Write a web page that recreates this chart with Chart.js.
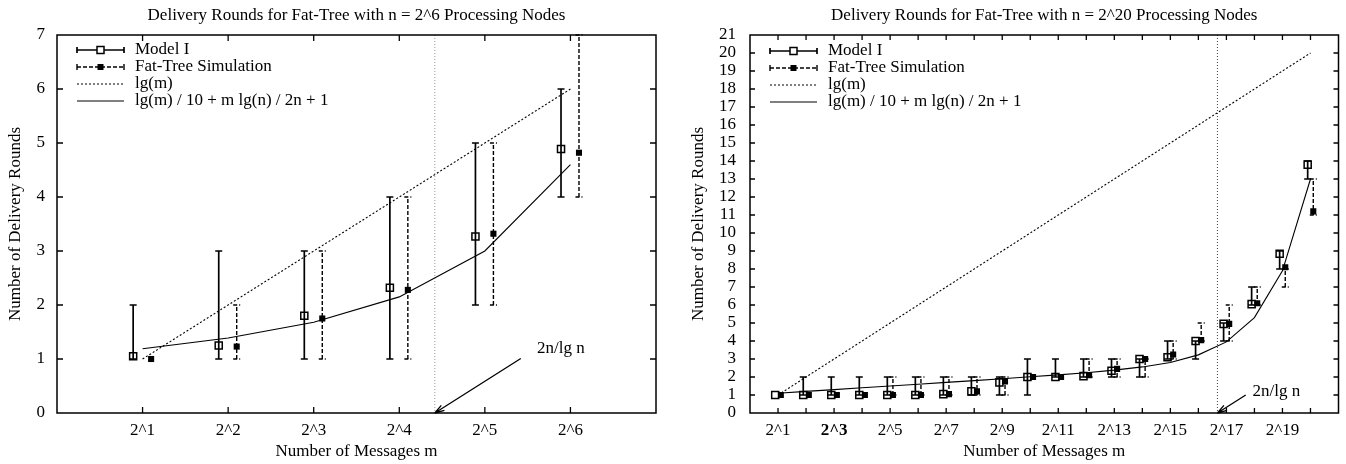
<!DOCTYPE html>
<html>
<head>
<meta charset="utf-8">
<script src="https://cdn.jsdelivr.net/npm/chart.js@4.4.1/dist/chart.umd.min.js"></script>
<style>
  body { margin: 0; background: #fff; width: 1346px; height: 464px; overflow: hidden; position: relative; }
  .box { position: absolute; top: 0; width: 673px; height: 464px; }
</style>
</head>
<body>
<div class="box" style="left:0"><canvas id="left-chart" width="673" height="464"></canvas></div>
<div class="box" style="left:673px"><canvas id="right-chart" width="673" height="464"></canvas></div>
<script>
// series names (legend)
const seriesNames = ['Model I', 'Fat-Tree Simulation', 'lg(m)', 'lg(m) / 10 + m lg(n) / 2n + 1'];

// n = 2^6
const leftExps     = [1, 2, 3, 4, 5, 6];
const leftModel    = [1.05, 1.25, 1.8, 2.32, 3.27, 4.89];
const leftModelLo  = [1, 1, 1, 1, 2, 4];
const leftModelHi  = [2, 3, 3, 4, 5, 6];
const leftSim      = [1.0, 1.23, 1.75, 2.28, 3.32, 4.82];
const leftSimLo    = [1, 1, 1, 1, 2, 4];
const leftSimHi    = [1, 2, 3, 4, 5, 7];
const leftLg       = [1, 2, 3, 4, 5, 6];
const leftFormula  = [1.19, 1.39, 1.68, 2.15, 3.0, 4.6];
const leftCut      = 4.415;   // lg(2n/lg n)

// n = 2^20
const rightExps    = [1, 2, 3, 4, 5, 6, 7, 8, 9, 10, 11, 12, 13, 14, 15, 16, 17, 18, 19, 20];
const rightModel   = [1, 1, 1, 1, 1, 1, 1.05, 1.2, 1.7, 2.0, 2.0, 2.05, 2.35, 3.0, 3.1, 4.0, 4.95, 6.05, 8.85, 13.8];
const rightModelLo = [1, 1, 1, 1, 1, 1, 1, 1, 1, 1, 2, 2, 2, 2, 3, 3, 4, 6, 8, 13];
const rightModelHi = [1, 2, 2, 2, 2, 2, 2, 2, 2, 3, 3, 3, 3, 3, 4, 4, 5, 7, 9, 14];
const rightSim     = [1, 1, 1, 1, 1, 1, 1.05, 1.2, 1.75, 2.0, 2.0, 2.1, 2.45, 3.0, 3.25, 4.05, 4.95, 6.1, 8.1, 11.2];
const rightSimLo   = [1, 1, 1, 1, 1, 1, 1, 1, 1, 2, 2, 2, 2, 2, 3, 4, 4, 6, 7, 11];
const rightSimHi   = [1, 1, 1, 1, 2, 2, 2, 2, 2, 2, 2, 3, 3, 3, 4, 5, 6, 7, 8, 13];
const rightLg      = [1, 2, 3, 4, 5, 6, 7, 8, 9, 10, 11, 12, 13, 14, 15, 16, 17, 18, 19, 20];
const rightFormula = [1.1, 1.2, 1.3, 1.4, 1.5, 1.6, 1.7, 1.8, 1.9, 2.01, 2.12, 2.24, 2.38, 2.56, 2.81, 3.23, 3.95, 5.3, 7.9, 13.0];
const rightCut     = 16.68;
const rightLabelledTicks = [1, 3, 5, 7, 9, 11, 13, 15, 17, 19];
const rightBoldTicks = [3];

const FONT = '"Liberation Serif", "Times New Roman", serif';
const FS = 17;
Chart.defaults.font.family = FONT;
Chart.defaults.font.size = FS;
Chart.defaults.color = '#000';

function overlay(s) {
    return {
        id: 'overlay',
        beforeDatasetsDraw(chart) {
            const ctx = chart.ctx, xs = chart.scales.x, ys = chart.scales.y, ca = chart.chartArea;
            // 2n/lg n marker
            const cx = xs.getPixelForValue(s.cut);
            ctx.save();
            ctx.strokeStyle = s.cutColor;
            ctx.lineWidth = 1;
            ctx.setLineDash([1, 2]);
            ctx.beginPath();
            ctx.moveTo(cx, ca.top);
            ctx.lineTo(cx, ca.bottom);
            ctx.stroke();
            ctx.restore();

            const bar = (xv, lo, hi, dash, lw) => {
                if (lo === hi) return;
                const px = xs.getPixelForValue(xv);
                const p1 = ys.getPixelForValue(lo), p2 = ys.getPixelForValue(hi);
                ctx.save();
                ctx.strokeStyle = '#000';
                ctx.lineWidth = lw;
                ctx.setLineDash(dash);
                ctx.beginPath();
                ctx.moveTo(px, p1);
                ctx.lineTo(px, p2);
                ctx.stroke();
                ctx.beginPath();
                ctx.moveTo(px - s.cap, p1); ctx.lineTo(px + s.cap, p1);
                ctx.moveTo(px - s.cap, p2); ctx.lineTo(px + s.cap, p2);
                ctx.stroke();
                ctx.restore();
            };
            s.exps.forEach((k, i) => {
                bar(k + s.modelOff, s.modelLo[i], s.modelHi[i], [], 1.7);
                bar(k + s.simOff, s.simLo[i], s.simHi[i], [4, 2], 1.4);
            });
        },
        afterDraw(chart) {
            const ctx = chart.ctx, xs = chart.scales.x, ys = chart.scales.y, ca = chart.chartArea;
            ctx.save();
            ctx.strokeStyle = '#000';
            ctx.lineWidth = 1.5;
            ctx.strokeRect(ca.left, ca.top, ca.right - ca.left, ca.bottom - ca.top);

            // inward ticks
            ctx.lineWidth = 1.3;
            ctx.beginPath();
            s.exps.forEach(k => {
                const px = xs.getPixelForValue(k);
                ctx.moveTo(px, ca.bottom); ctx.lineTo(px, ca.bottom - s.tick);
                ctx.moveTo(px, ca.top); ctx.lineTo(px, ca.top + s.tick);
            });
            for (let v = 1; v < s.yMax; v++) {
                const py = ys.getPixelForValue(v);
                ctx.moveTo(ca.left, py); ctx.lineTo(ca.left + s.tick, py);
                ctx.moveTo(ca.right, py); ctx.lineTo(ca.right - s.tick, py);
            }
            ctx.stroke();

            // legend
            const lx0 = ca.left + 20, lx1 = ca.left + 67, lm = (lx0 + lx1) / 2, tx = ca.left + 78;
            const rowY = i => ca.top + s.legendTop + 17 * i;
            ctx.font = FS + 'px ' + FONT;
            ctx.fillStyle = '#000';
            ctx.textAlign = 'left';
            ctx.textBaseline = 'middle';
            seriesNames.forEach((name, i) => {
                const y = rowY(i);
                ctx.save();
                ctx.lineWidth = i === 0 ? 1.7 : (i === 1 ? 1.4 : 1);
                ctx.setLineDash(i === 1 ? [4, 2] : (i === 2 ? [2, 2] : []));
                ctx.beginPath();
                ctx.moveTo(lx0, y); ctx.lineTo(lx1, y);
                ctx.stroke();
                ctx.setLineDash([]);
                if (i < 2) {
                    ctx.beginPath();
                    ctx.moveTo(lx0, y - 3); ctx.lineTo(lx0, y + 3);
                    ctx.moveTo(lx1, y - 3); ctx.lineTo(lx1, y + 3);
                    ctx.stroke();
                    if (i === 0) {
                        ctx.fillStyle = '#fff';
                        ctx.fillRect(lm - 3.5, y - 3.5, 7, 7);
                        ctx.lineWidth = 1.5;
                        ctx.strokeRect(lm - 3.5, y - 3.5, 7, 7);
                    } else {
                        ctx.fillStyle = '#000';
                        ctx.fillRect(lm - 3, y - 3, 6, 6);
                    }
                }
                ctx.restore();
                ctx.fillText(name, tx, y);
            });

            // arrow to 2n/lg n
            const ax = xs.getPixelForValue(s.arrowFrom[0]), ay = ys.getPixelForValue(s.arrowFrom[1]);
            const bx = xs.getPixelForValue(s.cut), by = ys.getPixelForValue(0);
            const ang = Math.atan2(by - ay, bx - ax);
            ctx.lineWidth = 1.3;
            ctx.beginPath();
            ctx.moveTo(ax, ay); ctx.lineTo(bx, by);
            ctx.moveTo(bx, by); ctx.lineTo(bx - 10 * Math.cos(ang - 0.3), by - 10 * Math.sin(ang - 0.3));
            ctx.moveTo(bx, by); ctx.lineTo(bx - 10 * Math.cos(ang + 0.3), by - 10 * Math.sin(ang + 0.3));
            ctx.stroke();
            ctx.fillText('2n/lg n', xs.getPixelForValue(s.labelAt[0]), ys.getPixelForValue(s.labelAt[1]));
            ctx.restore();
        }
    };
}

function buildChart(id, s) {
    const pts = (ys, off) => s.exps.map((k, i) => ({ x: k + off, y: ys[i] }));
    return new Chart(document.getElementById(id), {
        type: 'scatter',
        data: {
            datasets: [
                {
                    label: seriesNames[0],
                    data: pts(s.model, s.modelOff),
                    pointStyle: 'rect',
                    pointRadius: 5,
                    backgroundColor: 'rgba(0,0,0,0)',
                    borderColor: '#000',
                    borderWidth: 1.5
                },
                {
                    label: seriesNames[1],
                    data: pts(s.sim, s.simOff),
                    pointStyle: 'rect',
                    pointRadius: 4.3,
                    backgroundColor: '#000',
                    borderColor: '#000',
                    borderWidth: 0
                },
                {
                    label: seriesNames[2],
                    data: pts(s.lg, 0),
                    showLine: true,
                    borderColor: '#000',
                    borderWidth: 1.1,
                    borderDash: [2, 2],
                    pointRadius: 0
                },
                {
                    label: seriesNames[3],
                    data: pts(s.formula, 0),
                    showLine: true,
                    borderColor: '#000',
                    borderWidth: 1.1,
                    pointRadius: 0
                }
            ]
        },
        options: {
            responsive: false,
            animation: false,
            devicePixelRatio: 1,
            layout: { padding: { left: 0, right: s.padRight, top: 0, bottom: 0 } },
            plugins: {
                legend: { display: false },
                tooltip: { enabled: false },
                title: {
                    display: true,
                    fullSize: false,
                    text: s.title,
                    color: '#000',
                    font: { size: FS, weight: 'normal' },
                    padding: { top: 5.8, bottom: 8.8 }
                }
            },
            scales: {
                x: {
                    type: 'linear',
                    min: 0,
                    max: s.xMax,
                    grid: { display: false, drawTicks: false },
                    border: { display: false },
                    ticks: {
                        stepSize: 1,
                        autoSkip: false,
                        maxRotation: 0,
                        padding: 7.5,
                        color: '#000',
                        font: ctx => ({ size: FS, weight: (ctx.tick && s.boldTicks.includes(ctx.tick.value)) ? 'bold' : 'normal' }),
                        callback: v => s.labelled.includes(v) ? '2^' + v : ''
                    },
                    title: {
                        display: true,
                        text: 'Number of Messages m',
                        color: '#000',
                        font: { size: FS },
                        padding: { top: 0, bottom: 2.3 }
                    },
                    afterFit: sc => { sc.height = 51; }
                },
                y: {
                    min: 0,
                    max: s.yMax,
                    grid: { display: false, drawTicks: false },
                    border: { display: false },
                    ticks: { stepSize: 1, autoSkip: false, padding: s.yTickPad, color: '#000', font: { size: FS } },
                    title: {
                        display: true,
                        text: 'Number of Delivery Rounds',
                        color: '#000',
                        font: { size: FS },
                        padding: { top: s.yTitlePad, bottom: 0 }
                    },
                    afterFit: sc => { sc.width = s.yAxisWidth; }
                }
            }
        },
        plugins: [overlay(s)]
    });
}

buildChart('left-chart', {
    title: 'Delivery Rounds for Fat-Tree with n = 2^6 Processing Nodes',
    exps: leftExps, model: leftModel, modelLo: leftModelLo, modelHi: leftModelHi,
    sim: leftSim, simLo: leftSimLo, simHi: leftSimHi, lg: leftLg, formula: leftFormula,
    cut: leftCut, cutColor: '#999', arrowFrom: [5.42, 1.01], labelAt: [5.61, 1.2],
    labelled: leftExps, boldTicks: [],
    xMax: 7, yMax: 7, modelOff: -0.11, simOff: 0.1, cap: 3.5, tick: 6,
    yAxisWidth: 57, padRight: 17, yTickPad: 12, yTitlePad: 5.8, legendTop: 15
});

buildChart('right-chart', {
    title: 'Delivery Rounds for Fat-Tree with n = 2^20 Processing Nodes',
    exps: rightExps, model: rightModel, modelLo: rightModelLo, modelHi: rightModelHi,
    sim: rightSim, simLo: rightSimLo, simHi: rightSimHi, lg: rightLg, formula: rightFormula,
    cut: rightCut, cutColor: '#444', arrowFrom: [17.69, 1.0], labelAt: [17.93, 1.17],
    labelled: rightLabelledTicks, boldTicks: rightBoldTicks,
    xMax: 21, yMax: 21, modelOff: -0.1, simOff: 0.1, cap: 3.5, tick: 5,
    yAxisWidth: 77, padRight: 7, yTickPad: 14, yTitlePad: 15.8, legendTop: 16
});
</script>
</body>
</html>
